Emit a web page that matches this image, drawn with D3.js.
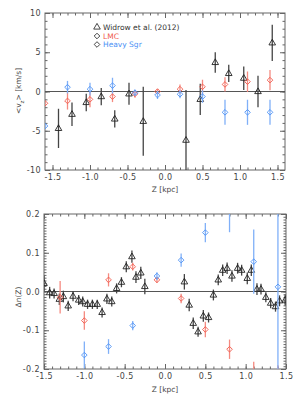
<!DOCTYPE html>
<html>
<head>
<meta charset="utf-8">
<script src="https://cdn.jsdelivr.net/npm/d3@7"></script>
<style>
  body { margin: 0; background: #fff; }
  text { font-family: "DejaVu Sans", sans-serif; fill: #444; }
</style>
</head>
<body>
<div class="svg-container"></div>
<script>
// ---- top panel data: <v_z>(Z) ----
var widrowVzZ   = [-1.42, -1.24, -1.05, -0.85, -0.67, -0.48, -0.29, 0.28, 0.47, 0.67, 0.85, 1.05, 1.24, 1.43];
var widrowVz    = [-4.7, -2.9, -1.4, -0.65, -3.5, -0.3, -3.8, -6.2, -1.0, 3.7, 2.3, 1.7, 0.0, 6.2];
var widrowVzErr = [2.5, 1.5, 1.1, 1.1, 1.1, 1.4, 4.4, 6.4, 2.0, 1.3, 1.1, 1.5, 2.0, 2.3];

var modelVzZ  = [-1.6, -1.3, -1.0, -0.7, -0.4, -0.1, 0.2, 0.5, 0.8, 1.1, 1.4];
var lmcVz     = [-1.5, -1.2, -1.0, -0.65, -0.3, 0.0, 0.3, 0.6, 0.9, 1.25, 1.45];
var lmcVzErr  = [0.3, 1.1, 1.0, 0.7, 0.5, 0.3, 0.6, 0.9, 0.9, 1.3, 1.3];
var sgrVz     = [-4.4, 0.55, 0.3, 0.75, -0.15, -0.45, -0.35, -0.65, -2.65, -2.65, -2.65];
var sgrVzErr  = [0.3, 0.8, 0.8, 1.0, 0.4, 0.5, 0.5, 0.8, 1.6, 1.6, 1.6];

// ---- bottom panel data: delta n(Z) ----
var widrowDnZ = [-1.5, -1.43, -1.375, -1.31, -1.26, -1.2, -1.14, -1.07, -1.02, -0.96, -0.9, -0.84, -0.78,
                 -0.72, -0.66, -0.6, -0.54, -0.48, -0.41, -0.36, -0.3, -0.25,
                 0.24, 0.3, 0.35, 0.41, 0.475, 0.54, 0.6, 0.66, 0.715, 0.77, 0.83, 0.9, 0.95, 1.02,
                 1.07, 1.14, 1.19, 1.25, 1.31, 1.37, 1.42, 1.49];
var widrowDn  = [0.021, -0.003, -0.005, -0.02, -0.013, -0.037, -0.012, -0.022, -0.026, -0.033, -0.033, -0.033, -0.054,
                 -0.019, -0.026, 0.008, 0.024, 0.064, 0.09, 0.037, 0.048, 0.013,
                 0.025, -0.035, -0.082, -0.104, -0.063, -0.067, -0.009, 0.03, 0.055, 0.06, 0.04, 0.06, 0.055, 0.034,
                 0.055, 0.006, 0.006, -0.015, -0.03, -0.039, -0.024, -0.022];
var widrowDnErr = [0.02, 0.015, 0.013, 0.015, 0.015, 0.013, 0.013, 0.013, 0.013, 0.012, 0.012, 0.012, 0.013,
                   0.013, 0.013, 0.013, 0.013, 0.014, 0.016, 0.015, 0.016, 0.02,
                   0.02, 0.016, 0.015, 0.013, 0.015, 0.013, 0.014, 0.014, 0.015, 0.015, 0.015, 0.014, 0.014, 0.015,
                   0.015, 0.015, 0.014, 0.013, 0.013, 0.013, 0.014, 0.014];

var lmcDnZ   = [-1.3, -1.0, -0.7, -0.4, -0.1, 0.2, 0.5, 0.8, 1.1, 1.4];
var lmcDn    = [-0.015, -0.075, 0.03, 0.064, 0.03, -0.018, -0.098, -0.149, -0.23, -0.25];
var lmcDnErr = [0.042, 0.024, 0.017, 0.01, 0.008, 0.012, 0.02, 0.025, 0.049, 0.06];

var sgrDnZ   = [-1.0, -0.7, -0.4, -0.1, 0.2, 0.5, 0.8, 1.1, 1.4];
var sgrDn    = [-0.164, -0.142, -0.088, 0.04, 0.081, 0.152, 0.3, 0.077, 0.012];
var sgrDnErr = [0.035, 0.019, 0.012, 0.01, 0.017, 0.025, 0.147, 0.083, 0.3];

var legendLabels = ["Widrow et al. (2012)", "LMC", "Heavy Sgr"];

var w = 299, h = 399;
var red = "#f05a4c", blue = "#4d92f5";
var triPath = "M0,-3.6L3.3,2.1L-3.3,2.1Z", diaPath = "M0,-2.8L2.8,0L0,2.8L-2.8,0Z";

const svg = d3.select(".svg-container")
              .append("svg")
              .attr("width", w)
              .attr("height", h);

function zip(xs, ys, es) {
  return xs.map((x, i) => ({ x: x, y: ys[i], e: es[i] }));
}

function drawPanel(p) {
  const xScale = d3.scaleLinear().domain(p.xDomain).range([p.left, p.right]);
  const yScale = d3.scaleLinear().domain(p.yDomain).range([p.bottom, p.top]);
  const g = svg.append("g");

  g.append("clipPath").attr("id", p.id)
   .append("rect")
   .attr("x", p.left).attr("y", p.top)
   .attr("width", p.right - p.left).attr("height", p.bottom - p.top);

  // minor ticks first, then major with labels
  function axes(axisFn, scale, minor, major, fmt, tr) {
    g.append("g").attr("transform", tr)
     .call(axisFn(scale).tickValues(minor).tickSize(-2.5).tickFormat(""))
     .call(a => a.select(".domain").remove());
    const ax = g.append("g").attr("transform", tr)
     .call(axisFn(scale).tickValues(major).tickSize(-5).tickPadding(4).tickFormat(fmt || ""));
    ax.select(".domain").remove();
    ax.selectAll("text").style("font-size", "8px").style("fill", "#444").style("letter-spacing", "0.4px");
    if (!fmt) ax.selectAll("text").remove();
  }

  axes(d3.axisBottom, xScale, p.xMinor, p.xMajor, d => d.toFixed(1), "translate(0," + p.bottom + ")");
  axes(d3.axisTop, xScale, p.xMinor, p.xMajor, null, "translate(0," + p.top + ")");
  axes(d3.axisLeft, yScale, p.yMinor, p.yMajor, p.yFmt, "translate(" + p.left + ",0)");
  axes(d3.axisRight, yScale, p.yMinor, p.yMajor, null, "translate(" + p.right + ",0)");
  g.selectAll(".tick line").attr("stroke", "#666");

  g.append("rect")
   .attr("x", p.left).attr("y", p.top)
   .attr("width", p.right - p.left).attr("height", p.bottom - p.top)
   .attr("fill", "none").attr("stroke", "#666").attr("stroke-width", 1);

  // zero line
  g.append("line")
   .attr("x1", p.left).attr("x2", p.right)
   .attr("y1", yScale(0)).attr("y2", yScale(0))
   .attr("stroke", "#555").attr("stroke-width", 1.2);

  const plot = g.append("g").attr("clip-path", "url(#" + p.id + ")");

  p.series.forEach(function (s) {
    const sg = plot.append("g");
    sg.selectAll("line")
      .data(s.data)
      .enter()
      .append("line")
      .attr("x1", d => xScale(d.x)).attr("x2", d => xScale(d.x))
      .attr("y1", d => yScale(d.y - d.e)).attr("y2", d => yScale(d.y + d.e))
      .attr("stroke", s.errColor)
      .attr("stroke-width", 1.3);
    sg.selectAll("path")
      .data(s.data)
      .enter()
      .append("path")
      .attr("transform", d => "translate(" + xScale(d.x) + "," + yScale(d.y) + ")")
      .attr("d", s.shape === "tri" ? triPath : diaPath)
      .attr("fill", "none")
      .attr("stroke", s.color)
      .attr("stroke-width", 0.9);
  });

  g.append("text")
   .attr("x", (p.left + p.right) / 2)
   .attr("y", p.xLabelY)
   .attr("text-anchor", "middle")
   .style("font-size", "7.5px")
   .text("Z [kpc]");

  return g;
}

// top panel
drawPanel({
  id: "clipTop",
  left: 45, right: 285, top: 13, bottom: 170,
  xDomain: [-1.6, 1.6], yDomain: [-10, 10],
  xMajor: [-1.5, -1.0, -0.5, 0, 0.5, 1.0, 1.5],
  xMinor: d3.range(-15, 16).map(d => d / 10),
  yMajor: [-10, -5, 0, 5, 10],
  yMinor: d3.range(-10, 11),
  yFmt: d => String(d),
  xLabelY: 192,
  series: [
    { shape: "tri", color: "#222", errColor: "#444", data: zip(widrowVzZ, widrowVz, widrowVzErr) },
    { shape: "dia", color: red, errColor: "#f58a80", data: zip(modelVzZ, lmcVz, lmcVzErr) },
    { shape: "dia", color: blue, errColor: "#80b0f8", data: zip(modelVzZ, sgrVz, sgrVzErr) }
  ]
});

const yl = svg.append("text")
   .attr("transform", "translate(21,91) rotate(-90)")
   .attr("text-anchor", "middle")
   .style("font-size", "7.5px");
yl.append("tspan").text("<v");
yl.append("tspan").attr("baseline-shift", "sub").style("font-size", "5.5px").text("z");
yl.append("tspan").text("> [km/s]");

// legend
var legendY = [27, 36, 44.5];
var legendColors = ["#333", red, blue];
legendLabels.forEach(function (lab, i) {
  svg.append("path")
     .attr("transform", "translate(97," + legendY[i] + ")")
     .attr("d", i === 0 ? triPath : diaPath)
     .attr("fill", "none").attr("stroke", "#333").attr("stroke-width", 0.9);
  svg.append("text")
     .attr("x", 103).attr("y", legendY[i] + 2.7)
     .style("font-size", "7.5px")
     .style("fill", legendColors[i])
     .text(lab);
});

// bottom panel
drawPanel({
  id: "clipBottom",
  left: 44, right: 286, top: 214, bottom: 369,
  xDomain: [-1.5, 1.5], yDomain: [-0.2, 0.2],
  xMajor: [-1.5, -1.0, -0.5, 0, 0.5, 1.0, 1.5],
  xMinor: d3.range(-15, 16).map(d => d / 10),
  yMajor: [-0.2, -0.1, 0, 0.1, 0.2],
  yMinor: d3.range(-28, 29).map(d => d / 140),
  yFmt: d => d.toFixed(1),
  xLabelY: 392,
  series: [
    { shape: "tri", color: "#222", errColor: "#444", data: zip(widrowDnZ, widrowDn, widrowDnErr) },
    { shape: "dia", color: red, errColor: "#f58a80", data: zip(lmcDnZ, lmcDn, lmcDnErr) },
    { shape: "dia", color: blue, errColor: "#80b0f8", data: zip(sgrDnZ, sgrDn, sgrDnErr) }
  ]
});

svg.append("text")
   .attr("transform", "translate(21,297) rotate(-90)")
   .attr("text-anchor", "middle")
   .style("font-size", "7.5px")
   .text("\u0394n(Z)");
</script>
</body>
</html>
